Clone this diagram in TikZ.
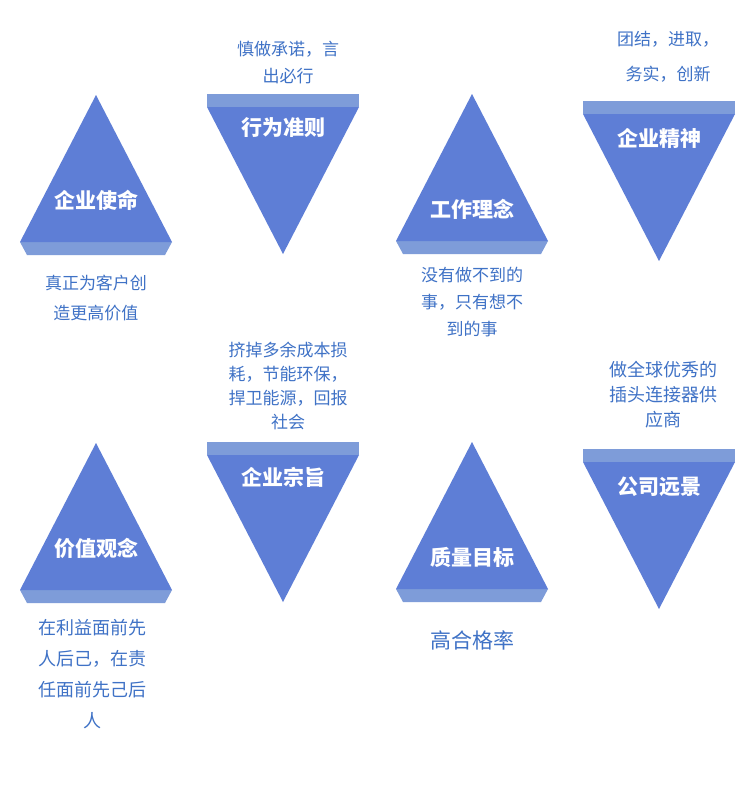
\documentclass[tikz,border=0pt]{standalone}
\usepackage{fontspec}
\setmainfont{Noto Sans CJK SC}
\definecolor{tri}{HTML}{5E7ED6}
\definecolor{strip}{HTML}{7E9CD9}
\definecolor{txt}{HTML}{3F72C6}
\begin{document}
\begin{tikzpicture}[x=1pt,y=-1pt,
  lbl/.style={text=white,font=\fontsize{21}{24}\selectfont\bfseries},
  desc/.style={text=txt,align=center,font=\fontsize{17}{27}\selectfont}]
\useasboundingbox[fill=white] (0,0) rectangle (750,790);
% up triangle: apex x,y ; base y
\newcommand{\uptri}[4]{%
  \fill[strip] (#1-76,#2+147) -- (#1+76,#2+147) -- (#1+69,#2+160) -- (#1-69,#2+160) -- cycle;
  \fill[tri] (#1,#2) -- (#1+76,#2+147) -- (#1-76,#2+147) -- cycle;
  \node[lbl] (#4) at (#1,#2+#3) {\csname lbl#4\endcsname};}
\newcommand{\dntri}[4]{%
  \fill[strip] (#1-76,#2) -- (#1+76,#2) -- (#1+76,#2+13) -- (#1-76,#2+13) -- cycle;
  \fill[tri] (#1-76,#2+13) -- (#1+76,#2+13) -- (#1,#2+160) -- cycle;
  \node[lbl] (#4) at (#1,#2+#3) {\csname lbl#4\endcsname};}
\expandafter\def\csname lbla\endcsname{企业使命}
\expandafter\def\csname lblb\endcsname{行为准则}
\expandafter\def\csname lblc\endcsname{工作理念}
\expandafter\def\csname lbld\endcsname{企业精神}
\expandafter\def\csname lble\endcsname{价值观念}
\expandafter\def\csname lblf\endcsname{企业宗旨}
\expandafter\def\csname lblg\endcsname{质量目标}
\expandafter\def\csname lblh\endcsname{公司远景}
\uptri{96}{95}{105}{a}
\dntri{283}{94}{34}{b}
\uptri{472}{94}{115}{c}
\dntri{659}{101}{37}{d}
\uptri{96}{443}{105}{e}
\dntri{283}{442}{35}{f}
\uptri{472}{442}{115}{g}
\dntri{659}{449}{38}{h}
\node[desc,font=\fontsize{17}{27}\selectfont] (ta) at (288,63) {慎做承诺，言\\出必行};
\node[desc,font=\fontsize{17}{30}\selectfont] (tb) at (96,298) {真正为客户创\\造更高价值};
\node[desc,font=\fontsize{17}{35}\selectfont] (tc) at (668,57) {团结，进取，\\务实，创新};
\node[desc] (td) at (472,302) {没有做不到的\\事，只有想不\\到的事};
\node[desc,font=\fontsize{17}{24}\selectfont] (te) at (288,386) {挤掉多余成本损\\耗，节能环保，\\捍卫能源，回报\\社会};
\node[desc,font=\fontsize{18}{25}\selectfont] (tf) at (663,395) {做全球优秀的\\插头连接器供\\应商};
\node[desc,font=\fontsize{18}{31}\selectfont] (tg) at (92,674) {在利益面前先\\人后己，在责\\任面前先己后\\人};
\node[desc,font=\fontsize{21}{27}\selectfont] (th) at (472,640) {高合格率};
\end{tikzpicture}
\end{document}
